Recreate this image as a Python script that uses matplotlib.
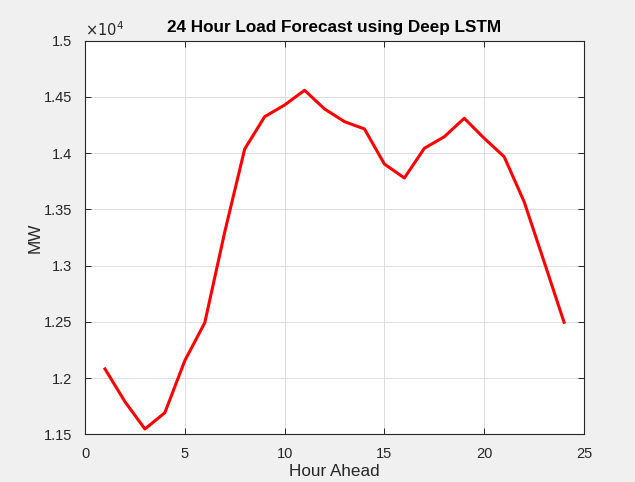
import matplotlib.pyplot as plt
from matplotlib.ticker import FuncFormatter

plt.rcParams['font.family'] = ['Liberation Sans', 'DejaVu Sans']

hours = list(range(1, 25))
load_mw = [12081, 11790, 11547, 11692, 12155, 12492, 13299, 14037,
           14324, 14428, 14559, 14393, 14280, 14215, 13903, 13779,
           14043, 14146, 14310, 14132, 13968, 13568, 13035, 12496]
x_ticks = [0, 5, 10, 15, 20, 25]
y_ticks = [11500, 12000, 12500, 13000, 13500, 14000, 14500, 15000]

fig = plt.figure(figsize=(6.35, 4.82), dpi=100, facecolor='#f0f0f0')
ax = fig.add_axes([0.1339, 0.099, 0.7858, 0.8166])
ax.plot(hours, load_mw, color='red', linewidth=2.2)

ax.set_xlim(0, 25)
ax.set_ylim(11500, 15000)
ax.set_xticks(x_ticks)
ax.set_yticks(y_ticks)
ax.yaxis.set_major_formatter(FuncFormatter(lambda v, p: '%g' % (v / 1e4)))
ax.grid(True, color='#dcdcdc', linewidth=0.7)
ax.set_axisbelow(True)
ax.tick_params(direction='in', top=True, right=True, colors='#262626',
               labelsize=10.5, length=4, width=0.7)
ax.tick_params(axis='x', pad=9)
ax.tick_params(axis='y', pad=9)
for s in ax.spines.values():
    s.set_color('#262626')
    s.set_linewidth(0.8)

ax.text(0, 1.005, r'$\times10^4$', transform=ax.transAxes, fontsize=10.5,
        color='#262626', ha='left', va='bottom')
ax.set_title('24 Hour Load Forecast using Deep LSTM', fontsize=12.3,
             fontweight='bold', color='black', pad=6)
ax.set_xlabel('Hour Ahead', fontsize=12.3, color='#262626', labelpad=2)
ax.set_ylabel('MW', fontsize=12.3, color='#262626', labelpad=1)

fig.savefig('out.png', facecolor=fig.get_facecolor())
